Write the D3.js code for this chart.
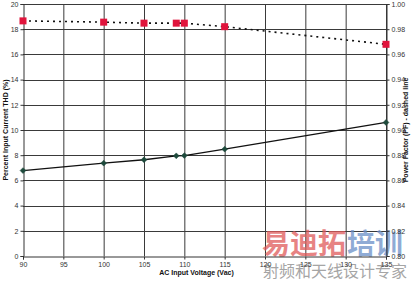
<!DOCTYPE html>
<html><head><meta charset="utf-8">
<script src="https://cdn.jsdelivr.net/npm/d3@7"></script>
<style>body{margin:0;background:#fff}svg{display:block}</style>
</head><body>
<svg id="c" width="414" height="281"></svg>
<script>
const voltage = [90, 100, 105, 109, 110, 115, 135];
const thd = [6.78, 7.37, 7.64, 7.95, 7.97, 8.48, 10.6];
const pf = [0.9866, 0.9856, 0.9848, 0.9848, 0.9848, 0.9820, 0.9680];
const xTicks = [90, 95, 100, 105, 110, 115, 120, 125, 130, 135];
const yTicks = [0, 2, 4, 6, 8, 10, 12, 14, 16, 18, 20];
const y2Ticks = [0.80, 0.82, 0.84, 0.86, 0.88, 0.90, 0.92, 0.94, 0.96, 0.98, 1.00];

const svg = d3.select('#c');
const L = 23, R = 386, T = 4, B = 256;
const x = d3.scaleLinear().domain([90, 135]).range([L, R]);
const y = d3.scaleLinear().domain([0, 20]).range([B, T]);
const y2 = d3.scaleLinear().domain([0.80, 1.00]).range([B, T]);
const font = 'Liberation Sans, Arial, sans-serif';

// grid
const g = svg.append('g');
g.selectAll('.vg').data(xTicks.slice(1)).enter().append('line')
  .attr('x1', d => x(d) + .5).attr('x2', d => x(d) + .5).attr('y1', T).attr('y2', B)
  .attr('stroke', '#3a3a3a').attr('stroke-width', 1);
g.selectAll('.hg').data(yTicks.slice(1)).enter().append('line')
  .attr('x1', L).attr('x2', R).attr('y1', d => Math.round(y(d)) + .5).attr('y2', d => Math.round(y(d)) + .5)
  .attr('stroke', '#3a3a3a').attr('stroke-width', 1);

// watermark (behind axis labels)
const wm = svg.append('g').attr('opacity', 0.75);
wm.append('text').attr('x', 262).attr('y', 254).attr('font-family', 'Noto Sans CJK SC').attr('font-weight', 'bold')
  .attr('font-size', 28).attr('fill', '#e05a5a').text('易迪拓');
wm.append('text').attr('x', 347).attr('y', 254).attr('font-family', 'Noto Sans CJK SC').attr('font-weight', 'bold')
  .attr('font-size', 28).attr('fill', '#6a8fc8').text('培训');
wm.append('text').attr('x', 263).attr('y', 277).attr('font-family', 'Noto Sans CJK SC')
  .attr('font-size', 16).attr('fill', '#888').text('射频和天线设计专家');

// axes
const ax = svg.append('g').attr('transform', `translate(0,${B + .5})`)
  .call(d3.axisBottom(x).tickValues(xTicks).tickSize(3).tickPadding(3).tickFormat(d3.format('d')));
const ay = svg.append('g').attr('transform', `translate(${L + .5},0)`)
  .call(d3.axisLeft(y).tickValues(yTicks).tickSize(3).tickPadding(2).tickFormat(d3.format('d')));
const ay2 = svg.append('g').attr('transform', `translate(${R + .5},0)`)
  .call(d3.axisRight(y2).tickValues(y2Ticks).tickSize(3).tickPadding(2).tickFormat(d3.format('.2f')));
[ax, ay, ay2].forEach(a => {
  a.select('.domain').attr('stroke', '#333');
  a.selectAll('.tick line').attr('stroke', '#333');
  a.selectAll('text').attr('font-family', font).attr('font-size', 7).attr('fill', '#333');
});

// PF dashed line
svg.append('path').datum(voltage.map((v, i) => [v, pf[i]]))
  .attr('d', d3.line().x(d => x(d[0])).y(d => y2(d[1])))
  .attr('fill', 'none').attr('stroke', '#111').attr('stroke-width', 1.6).attr('stroke-dasharray', '2,4');
// THD line
svg.append('path').datum(voltage.map((v, i) => [v, thd[i]]))
  .attr('d', d3.line().x(d => x(d[0])).y(d => y(d[1])))
  .attr('fill', 'none').attr('stroke', '#111').attr('stroke-width', 1.3);

svg.selectAll('.sq').data(voltage.map((v, i) => [v, pf[i]])).enter().append('rect')
  .attr('x', d => x(d[0]) - 3.5).attr('y', d => y2(d[1]) - 3.5).attr('width', 7).attr('height', 7)
  .attr('fill', '#e0143c');
svg.selectAll('.dm').data(voltage.map((v, i) => [v, thd[i]])).enter().append('path')
  .attr('transform', d => `translate(${x(d[0])},${y(d[1])})`)
  .attr('d', d3.symbol(d3.symbolDiamond2, 22))
  .attr('fill', '#1e4a3c').attr('stroke', '#1e4a3c').attr('stroke-width', 0.5);

// axis titles
svg.append('text').attr('x', (L + R) / 2 - 8).attr('y', 275).attr('text-anchor', 'middle')
  .attr('font-family', font).attr('font-size', 7).attr('font-weight', 'bold').attr('fill', '#111')
  .text('AC Input Voltage (Vac)');
svg.append('text').attr('transform', `translate(8,${(T + B) / 2}) rotate(-90)`).attr('text-anchor', 'middle')
  .attr('font-family', font).attr('font-size', 7).attr('font-weight', 'bold').attr('fill', '#111')
  .text('Percent Input Current THD (%)');
svg.append('text').attr('transform', `translate(408,${(T + B) / 2}) rotate(-90)`).attr('text-anchor', 'middle')
  .attr('font-family', font).attr('font-size', 7).attr('font-weight', 'bold').attr('fill', '#111')
  .text('Power Factor (PF) - dashed line');
</script>
</body></html>
